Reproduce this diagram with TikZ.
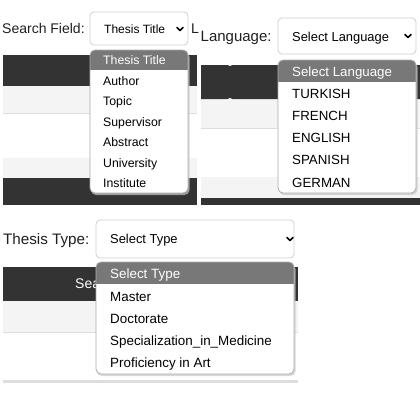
\documentclass[tikz,border=0pt]{standalone}
\usepackage{fontspec}
\setmainfont{Liberation Sans}
\definecolor{band}{HTML}{333333}
\definecolor{hilite}{HTML}{787878}
\definecolor{pale}{HTML}{F4F4F4}
\definecolor{rule}{HTML}{DEDEDE}
\definecolor{frame}{HTML}{D0D0D0}

\begin{document}
\begin{tikzpicture}[x=1pt,y=-1pt,
		fieldlbl/.style={anchor=base west,inner sep=0pt,text=black!88,font=\fontsize{#1}{#1}\selectfont},
		optitem/.style={anchor=base west,inner sep=0pt,text=black,font=\fontsize{#1}{#1}\selectfont},
		selbox/.style={draw=frame,fill=white,rounded corners=4pt,line width=0.8pt},
		droplist/.style={draw=gray!65,rounded corners=5pt,line width=0.8pt},
		dropshade/.style={fill=black!22,rounded corners=5pt,opacity=0.7},
		chev/.style={line width=1.5pt,line cap=round,line join=round}]
	\useasboundingbox (0,0) rectangle (420,408);
%	\draw[help lines,step=10] (0,0) grid (420,408);

	% Search Field
	\fill[pale] (3,86) rectangle (197,113);
	\draw[rule] (3,113) -- (197,113);
	\fill[pale] (3,158) rectangle (197,178);
	\fill[band] (3,55) rectangle (197,86);
	\fill[band] (3,178) rectangle (197,205);
	\node[fieldlbl=14] (searchlbl) at (2,33) {Search Field:};
	\draw[selbox] (90,12) rectangle (188,45);
	\node[optitem=12] (searchsel) at (104,33) {Thesis Title};
	\draw[chev] (180,29) ++(-3,-1.5) -- ++(3,3) -- ++(3,-3);
	\node[fieldlbl=14] (langcut) at (191,33) {L};
	\fill[dropshade] (91,52) rectangle (189.5,195);
	\fill[white,rounded corners=5pt] (90,50) rectangle (188,193);
	\begin{scope}
		\clip[rounded corners=5pt] (90,50) rectangle (188,193);
		\fill[hilite] (90,50) rectangle (188,70);
	\end{scope}
	\draw[droplist] (90,50) rectangle (188,193);
	\node[optitem=12.3,text=white] (searchopt1) at (103,64.5) {Thesis Title};
	\node[optitem=12.3] (searchopt2) at (103,85.5) {Author};
	\node[optitem=12.3] (searchopt3) at (103,105.5) {Topic};
	\node[optitem=12.3] (searchopt4) at (103,126.5) {Supervisor};
	\node[optitem=12.3] (searchopt5) at (103,146.5) {Abstract};
	\node[optitem=12.3] (searchopt6) at (103,167.5) {University};
	\node[optitem=12.3] (searchopt7) at (103,187.5) {Institute};

	% Language
	\begin{scope}
		\clip (201,0) rectangle (420,205);
		\fill[pale] (201,99) rectangle (420,128);
		\draw[rule] (201,128) -- (420,128);
		\fill[pale] (201,177) rectangle (420,198);
		\fill[band] (201,198) rectangle (420,205);
		\fill[band,rounded corners=3pt] (190,65) rectangle (230.5,99);
		\fill[band,rounded corners=3pt] (229.5,65) rectangle (430,99);
		\node[fieldlbl=15] (langlbl) at (200.5,41) {Language:};
	\end{scope}
	\draw[selbox] (278,18) rectangle (416,54);
	\node[optitem=12.9] (langsel) at (292,41) {Select Language};
	\draw[chev] (408,36) ++(-3,-1.5) -- ++(3,3) -- ++(3,-3);
	\fill[dropshade] (279,62) rectangle (417.5,195);
	\fill[white,rounded corners=5pt] (278,60) rectangle (416,193);
	\begin{scope}
		\clip[rounded corners=5pt] (278,60) rectangle (416,193);
		\fill[hilite] (278,60) rectangle (416,82);
	\end{scope}
	\draw[droplist] (278,60) rectangle (416,193);
	\node[optitem=13.3,text=white] (langopt1) at (292,76) {Select Language};
	\node[optitem=13.3] (langopt2) at (292,98) {TURKISH};
	\node[optitem=13.3] (langopt3) at (292,120) {FRENCH};
	\node[optitem=13.3] (langopt4) at (292,142) {ENGLISH};
	\node[optitem=13.3] (langopt5) at (292,164) {SPANISH};
	\node[optitem=13.3] (langopt6) at (292,187) {GERMAN};

	% Thesis Type
	\fill[pale] (3,301) rectangle (298,332);
	\draw[rule] (3,332) -- (298,332);
	\fill[rule] (3,380) rectangle (298,383);
	\fill[band] (3,267) rectangle (298,301);
	\node[fieldlbl=15.2] (typelbl) at (3,244) {Thesis Type:};
	\node[fieldlbl=14,text=white] (searchbtn) at (75,288) {Sea};
	\draw[selbox] (96,220) rectangle (294,258);
	\node[optitem=12.9] (typesel) at (110,243) {Select Type};
	\draw[chev] (290,239) ++(-3,-1.5) -- ++(3,3) -- ++(3,-3);
	\fill[dropshade] (97,264) rectangle (295.5,376);
	\fill[white,rounded corners=5pt] (96,262) rectangle (294,374);
	\begin{scope}
		\clip[rounded corners=5pt] (96,262) rectangle (294,374);
		\fill[hilite] (96,262) rectangle (294,284);
	\end{scope}
	\draw[droplist] (96,262) rectangle (294,374);
	\node[optitem=13.4,text=white] (typeopt1) at (110,278) {Select Type};
	\node[optitem=13.4] (typeopt2) at (110,301) {Master};
	\node[optitem=13.4] (typeopt3) at (110,323) {Doctorate};
	\node[optitem=13.4] (typeopt4) at (110,345) {Specialization\_in\_Medicine};
	\node[optitem=13.4] (typeopt5) at (110,367) {Proficiency in Art};
\end{tikzpicture}
\end{document}
